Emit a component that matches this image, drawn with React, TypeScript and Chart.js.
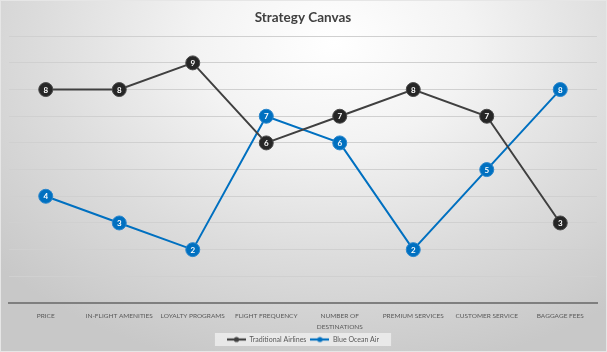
import React, { useEffect, useRef } from "react";
import { Chart, registerables } from "chart.js";

Chart.register(...registerables);

const categories: (string | string[])[] = [
  "PRICE",
  "IN-FLIGHT AMENITIES",
  "LOYALTY PROGRAMS",
  "FLIGHT FREQUENCY",
  ["NUMBER OF", "DESTINATIONS"],
  "PREMIUM SERVICES",
  "CUSTOMER SERVICE",
  "BAGGAGE FEES",
];
const traditionalAirlines = [8, 8, 9, 6, 7, 8, 7, 3];
const blueOceanAir = [4, 3, 2, 7, 6, 2, 5, 8];
const seriesNames = ["Traditional Airlines", "Blue Ocean Air"];

const FONT = "Lato, 'Open Sans', sans-serif";

function makeLegendIcon(color: string): HTMLCanvasElement {
  const c = document.createElement("canvas");
  c.width = 19;
  c.height = 8;
  const ctx = c.getContext("2d")!;
  ctx.strokeStyle = color;
  ctx.lineWidth = 2.2;
  ctx.beginPath();
  ctx.moveTo(0, 4);
  ctx.lineTo(19, 4);
  ctx.stroke();
  ctx.fillStyle = color;
  ctx.beginPath();
  ctx.arc(9.5, 4, 2.6, 0, Math.PI * 2);
  ctx.fill();
  return c;
}

const pointLabelPlugin = {
  id: "pointLabels",
  afterDatasetsDraw(chart: any) {
    const ctx = chart.ctx;
    ctx.save();
    ctx.fillStyle = "#ffffff";
    ctx.font = `bold 8px ${FONT}`;
    ctx.textAlign = "center";
    ctx.textBaseline = "middle";
    chart.data.datasets.forEach((ds: any, i: number) => {
      const meta = chart.getDatasetMeta(i);
      meta.data.forEach((pt: any, j: number) => {
        ctx.fillText(String(ds.data[j]), pt.x, pt.y + 0.5);
      });
    });
    ctx.restore();
  },
};

const legendBgPlugin = {
  id: "legendBg",
  beforeDraw(chart: any) {
    const lg = chart.legend;
    if (!lg || !lg.legendHitBoxes || !lg.legendHitBoxes.length) return;
    const boxes = lg.legendHitBoxes;
    let l = Infinity, r = -Infinity, t = Infinity, b = -Infinity;
    boxes.forEach((h: any) => {
      l = Math.min(l, h.left);
      r = Math.max(r, h.left + h.width);
      t = Math.min(t, h.top);
      b = Math.max(b, h.top + h.height);
    });
    const ctx = chart.ctx;
    ctx.save();
    ctx.fillStyle = "rgba(242,242,242,0.75)";
    ctx.fillRect(l - 12, t - 3, r - l + 24, b - t + 6);
    ctx.restore();
  },
};

export default function App() {
  const ref = useRef<HTMLCanvasElement>(null);

  useEffect(() => {
    const icons = [makeLegendIcon("#404040"), makeLegendIcon("#0070C0")];
    const chart = new Chart(ref.current!, {
      type: "line",
      data: {
        labels: categories,
        datasets: [
          {
            label: seriesNames[0],
            data: traditionalAirlines,
            borderColor: "#404040",
            backgroundColor: "#262626",
            pointBackgroundColor: "#262626",
            pointBorderColor: "#4a4a4a",
            pointBorderWidth: 1,
            pointRadius: 7,
            borderWidth: 2,
            tension: 0,
          },
          {
            label: seriesNames[1],
            data: blueOceanAir,
            borderColor: "#0070C0",
            backgroundColor: "#0070C0",
            pointBackgroundColor: "#0070C0",
            pointBorderColor: "#2a86cc",
            pointBorderWidth: 1,
            pointRadius: 7,
            borderWidth: 2,
            tension: 0,
          },
        ],
      },
      options: {
        animation: false,
        responsive: false,
        maintainAspectRatio: false,
        layout: { padding: { left: 8, right: 9, top: 0, bottom: -2 } },
        plugins: {
          title: {
            display: true,
            text: "Strategy Canvas",
            color: "#404040",
            font: { family: FONT, size: 13.5, weight: "bold" },
            padding: { top: 9, bottom: 10 },
          },
          legend: {
            position: "bottom",
            labels: {
              color: "#595959",
              font: { family: FONT, size: 7 },
              usePointStyle: true,
              pointStyleWidth: 19,
              boxHeight: 7,
              padding: 4,
              generateLabels: (c: any) => {
                const items = Chart.defaults.plugins.legend.labels.generateLabels(c);
                return items.map((it: any, i: number) => ({ ...it, pointStyle: icons[i], fontColor: "#595959" }));
              },
            },
          },
          tooltip: { enabled: false },
        },
        scales: {
          x: {
            offset: true,
            grid: { display: false, drawTicks: false },
            border: { display: true, color: "#7f7f7f", width: 2 },
            ticks: {
              color: "#595959",
              font: { family: FONT, size: 6.5, lineHeight: 1.69 },
              maxRotation: 0,
              autoSkip: false,
              padding: 7,
            },
            afterFit: (scale: any) => {
              scale.height = 29;
            },
          },
          y: {
            min: 0,
            max: 10,
            ticks: { display: false, stepSize: 1 },
            grid: { color: "#d0d0d0", lineWidth: 1, drawTicks: false },
            border: { display: false },
          },
        },
      },
      plugins: [pointLabelPlugin, legendBgPlugin],
    });
    return () => chart.destroy();
  }, []);

  return (
    <div
      style={{
        position: "fixed",
        left: 0,
        top: 0,
        width: 607,
        height: 352,
        background:
          "radial-gradient(ellipse 75% 95% at 55% 12%, #ffffff 0%, #f3f3f3 30%, #dcdcdc 65%, #c8c8c8 100%)",
        boxSizing: "border-box",
        border: "1px solid #e6e6e6",
      }}
    >
      <canvas ref={ref} width={605} height={350} style={{ display: "block" }} />
    </div>
  );
}
